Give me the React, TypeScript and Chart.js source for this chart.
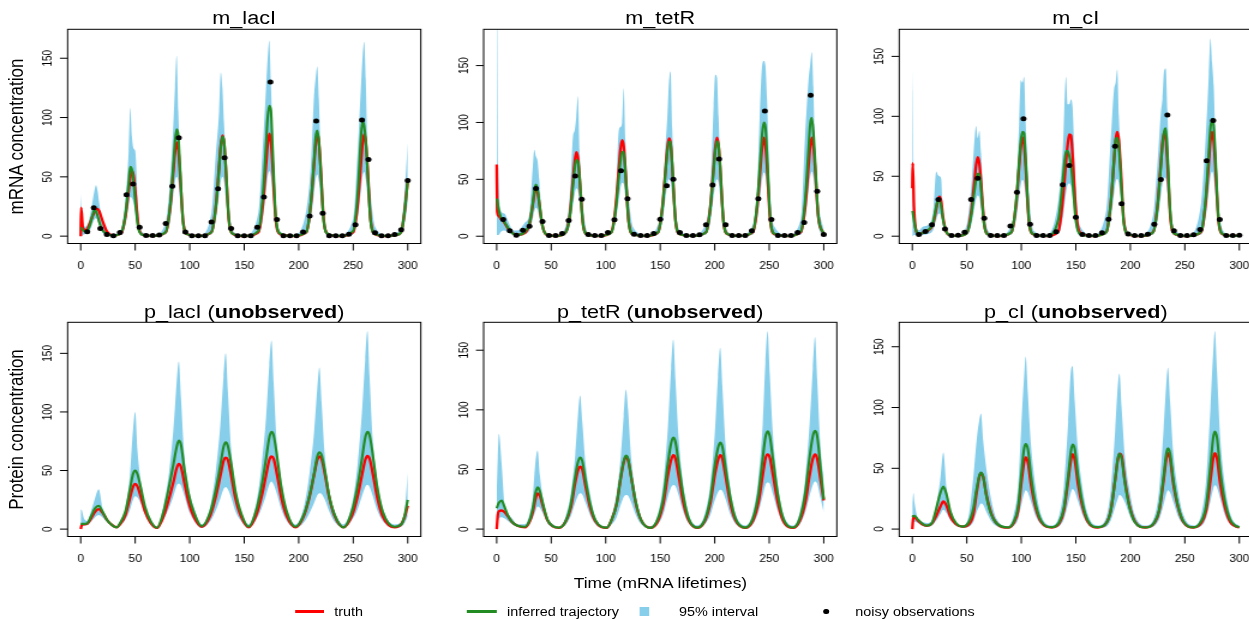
import React, { useEffect, useRef } from "react";
import { Chart, registerables } from "chart.js";

Chart.register(...registerables);

// ---------- horizontal stretch of the reference figure ----------
const SX = 1.2;
const FONT = '"Liberation Sans", Arial, Helvetica, sans-serif';
const BAND = "#87CEEB";
const RED = "#FF0000";
const GREEN = "#228B22";

// ---------- axis ticks ----------
const xTicks = [0, 50, 100, 150, 200, 250, 300];
const yTicks = [0, 50, 100, 150];

// ---------- observation times ----------
const obsTimes = [6, 12, 18, 24, 30, 36, 42, 48, 54, 60, 66, 72, 78, 84, 90, 96, 102, 108, 114, 120, 126, 132, 138, 144, 150, 156, 162, 168, 174, 180, 186, 192, 198, 204, 210, 216, 222, 228, 234, 240, 246, 252, 258, 264, 270, 276, 282, 288, 294, 300];

// ================= m_lacI =================
const m_lacI_t = [0, 0.4, 2, 5, 8, 11, 12.5, 14, 15.5, 17, 20, 24, 30,
  37, 41, 44, 45.5, 47, 48.5, 50, 53, 57, 67,
  78, 82, 85, 86.5, 88, 89.5, 91, 94, 98, 109,
  120, 124, 127, 128.5, 130, 131.5, 133, 136, 140, 151,
  163, 167, 170, 171.5, 173, 174.5, 176, 179, 183, 195,
  207, 211, 214, 215.5, 217, 218.5, 220, 223, 227, 238,
  250, 254, 257, 258.5, 260, 261.5, 263, 266, 270, 281,
  290, 294, 297, 300];
const m_lacI_truth = [0, 24, 7, 5, 10, 17, 20, 22.5, 23, 21, 13, 4, 0.5,
  2.2, 16.5, 38.5, 49.5, 55, 51, 38.5, 8, 1.1, 0.1,
  3.2, 23.7, 55, 71, 79, 73.5, 55, 12, 1.6, 0.1,
  3.4, 25.5, 59.5, 76.5, 85, 79, 59.5, 12.8, 1.7, 0.1,
  3.4, 25.8, 60, 77.5, 86.5, 80, 60, 13, 1.7, 0.1,
  3.4, 25.8, 60, 77.4, 86, 80, 60, 13, 1.7, 0.1,
  3.4, 25.8, 60, 77.4, 86, 80, 60, 13, 1.7, 0.1,
  1, 3.4, 20, 47];
const m_lacI_fit = [7, 7, 5, 4, 8, 18, 22, 21, 17, 12, 5, 2, 0.5,
  3, 18, 45, 58.5, 56, 46, 30, 6, 1, 0.2,
  3.5, 25, 60, 80, 90, 85, 60, 11, 1.5, 0.2,
  3.4, 25, 58, 75, 84, 80, 60, 13, 1.7, 0.2,
  4.4, 33, 77, 100, 110, 106, 75, 16, 2.2, 0.2,
  3.6, 27, 63, 83, 89, 80, 58, 12, 1.7, 0.2,
  4.5, 35, 82, 97, 93, 80, 58, 12, 1.7, 0.2,
  1, 3.5, 20, 46];
const m_lacI_hi = [36, 30, 12, 8, 15, 30, 38, 43, 38, 28, 12, 5, 1.5,
  6, 31, 72, 108, 84, 74, 72, 19, 3, 1,
  12, 47, 95, 126, 152, 105, 72, 18, 3, 1,
  20, 70, 106, 138, 125, 95, 70, 25, 4, 1,
  20, 75, 125, 150, 165, 128, 88, 25, 4, 1,
  22, 58, 118, 133, 143, 115, 75, 22, 3, 1,
  15, 70, 125, 150, 164, 132, 75, 35, 8, 1,
  3, 10, 36, 79];
const m_lacI_lo = [0, 0, 1, 2, 4, 11, 14, 15, 13, 9, 3, 1, 0,
  1, 9, 26, 33, 32, 28, 20, 4, 0.5, 0,
  1.5, 13, 35, 46, 50, 46, 32, 6, 0.7, 0,
  1.5, 14, 35, 46, 50, 46, 33, 7, 0.7, 0,
  1.5, 14, 38, 50, 55, 50, 36, 7, 0.7, 0,
  1.5, 14, 36, 48, 52, 46, 33, 6, 0.7, 0,
  1.5, 15, 38, 50, 54, 48, 34, 6, 0.7, 0,
  0.3, 1.5, 10, 28];
const m_lacI_obs = [3.7, 24, 6.5, 1.4, 0.4, 3, 35, 44, 7.6, 0.5, 0.5, 1, 10.7, 42, 83, 3.4, 0.4, 0.4, 0.4, 12, 40, 66, 6.5, 0.4, 0.4, 0.4, 7.6, 33, 130, 14, 0.4, 0.4, 0.4, 3.4, 17, 97, 19.4, 0.4, 0.4, 0.4, 1.7, 9.6, 98, 64.6, 2.8, 0.4, 0.4, 1.4, 5.3, 47];

// ================= m_tetR =================
const m_tetR_t = [0, 0.4, 1.5, 4, 7, 11, 15, 19,
  26, 30, 33, 34.5, 36, 37.5, 39, 42, 46, 55,
  63, 67, 70, 71.5, 73, 74.5, 76, 79, 83, 94,
  105, 109, 112, 113.5, 115, 116.5, 118, 121, 125, 137,
  148, 152, 155, 156.5, 158, 159.5, 161, 164, 168, 180,
  192, 196, 199, 200.5, 202, 203.5, 205, 208, 212, 223,
  235, 239, 242, 243.5, 245, 246.5, 248, 251, 255, 267,
  279, 283, 286, 287.5, 289, 290.5, 292, 295, 300];
const m_tetR_truth = [63, 22, 18, 15, 12, 6, 2.5, 1.2,
  3, 10.5, 27, 37, 42, 39, 29, 9, 1.2, 0.2,
  3, 18, 50, 65, 74, 69, 52, 12, 1.5, 0.2,
  3.4, 25, 59, 76, 84.5, 79, 59, 13, 1.7, 0.2,
  3.4, 26, 60, 77, 86, 82, 62, 14, 1.7, 0.2,
  3.5, 26, 61, 78, 86.6, 80, 61, 13, 1.7, 0.2,
  3.5, 26, 61, 78, 86.6, 80, 61, 13, 1.7, 0.2,
  3.5, 26, 61, 78, 86.6, 80, 61, 17, 2];
const m_tetR_fit = [33, 32, 25, 16, 12.5, 6.5, 2.3, 1,
  4, 11, 28, 40, 45.5, 41, 30, 9, 1.2, 0.2,
  3, 17, 45, 59, 67, 66, 52, 12, 1.5, 0.2,
  3, 22, 52, 66, 74, 74, 57, 13, 1.7, 0.2,
  3.4, 25, 58, 74, 83, 83, 63, 14, 1.7, 0.2,
  3.4, 25, 58, 75, 83.5, 80, 61, 13, 1.7, 0.2,
  4, 30, 70, 90, 100, 96, 72, 15, 2, 0.2,
  4.2, 32, 76, 98, 104, 92, 68, 18, 2];
const m_tetR_hi = [200, 190, 60, 22, 20, 12, 5, 5,
  12, 20, 60, 76, 70, 66, 50, 12, 3, 1,
  8, 35, 88, 93, 105, 123, 75, 28, 4, 1,
  6, 30, 93, 96, 100, 130, 85, 36, 8, 1,
  10, 35, 82, 105, 135, 145, 95, 28, 5, 1,
  12, 42, 115, 142, 140, 105, 70, 26, 4, 1,
  10, 45, 125, 150, 154, 150, 120, 36, 8, 1,
  15, 90, 137, 150, 162, 131, 73, 30, 5];
const m_tetR_lo = [0, 1, 1, 4, 5, 3, 1, 0.5,
  2, 5, 15, 22, 25, 23, 17, 5, 0.5, 0,
  1.5, 9, 28, 37, 42, 40, 30, 7, 0.7, 0,
  1.5, 12, 32, 42, 47, 46, 35, 8, 0.7, 0,
  1.5, 13, 35, 45, 50, 48, 36, 8, 0.7, 0,
  1.5, 13, 35, 45, 50, 47, 35, 8, 0.7, 0,
  1.5, 15, 38, 50, 56, 53, 40, 9, 0.7, 0,
  1.5, 15, 40, 52, 57, 52, 38, 9, 0.5];
const m_tetR_obs = [14.7, 4.7, 0.9, 5.3, 8.8, 42, 12.9, 0.6, 0.6, 2.3, 13.8, 53, 32.6, 1.5, 0.6, 0.6, 3.2, 14.4, 57.5, 33, 1.8, 0.6, 0.6, 2.3, 15, 44.3, 50, 3.2, 0.6, 0.6, 1.2, 10, 45, 67.8, 10, 0.6, 0.6, 0.6, 4.7, 33, 110, 14.7, 0.6, 0.6, 0.6, 3.2, 12, 124, 39.6, 1.5];

// ================= m_cI =================
const m_cI_t = [0, 0.4, 1.5, 3, 6, 10,
  15, 19, 22, 23.5, 25, 26.5, 28, 31, 35, 42,
  50, 54, 57, 58.5, 60, 61.5, 63, 66, 70, 80,
  91, 95, 98, 99.5, 101, 102.5, 104, 107, 111, 123,
  134, 138, 141, 142.5, 144, 145.5, 147, 150, 154, 166,
  178, 182, 185, 186.5, 188, 189.5, 191, 194, 198, 210,
  221, 225, 228, 229.5, 231, 232.5, 234, 237, 241, 253,
  265, 269, 272, 273.5, 275, 276.5, 278, 281, 285, 292, 300];
const m_cI_truth = [40, 61, 25, 7, 1.5, 3,
  5, 10, 23, 30, 33, 29, 17, 4, 0.7, 0.2,
  2.6, 20, 46, 59, 66, 61, 46, 10, 1.3, 0.1,
  3.3, 25, 58, 74, 82.4, 77, 58, 12, 1.6, 0.1,
  4, 30, 62, 76, 85, 84, 68, 22, 3, 0.1,
  3.5, 27, 62, 80, 87, 80, 60, 13, 1.7, 0.1,
  3.5, 26, 61, 78, 87, 82, 62, 13, 1.7, 0.1,
  3.5, 27, 62, 80, 87, 79, 59, 12, 1.5, 0.2, 0.3];
const m_cI_fit = [21, 20, 13, 6, 1.5, 3,
  5.5, 11, 25, 30, 30, 25, 15, 4, 0.7, 0.2,
  2.5, 17, 38, 47, 52, 52, 40, 9, 1.2, 0.1,
  3.5, 27, 62, 79, 87, 86, 64, 13, 1.6, 0.1,
  14, 46, 71, 71, 67, 60, 46, 13, 1.5, 0.1,
  3.5, 27, 63, 80, 82, 74, 54, 11, 1.5, 0.1,
  3.4, 25, 58, 76, 87, 90, 70, 15, 1.8, 0.1,
  4, 30, 70, 90, 98, 92, 68, 13, 1.6, 0.2, 0.3];
const m_cI_hi = [140, 120, 40, 12, 5, 8,
  10, 20, 54, 51, 50, 48, 20, 6, 2, 1,
  10, 40, 80, 92, 82, 88, 70, 22, 4, 1,
  10, 32, 95, 130, 128, 133, 95, 35, 5, 1,
  30, 72, 133, 110, 110, 114, 108, 40, 8, 1,
  22, 80, 122, 128, 139, 100, 70, 22, 4, 1,
  18, 62, 103, 115, 138, 140, 105, 30, 5, 1,
  28, 80, 135, 165, 145, 125, 85, 28, 5, 1, 1];
const m_cI_lo = [0, 0, 1, 1, 0.5, 1,
  2, 5, 14, 18, 19, 16, 9, 2, 0.3, 0,
  1, 9, 24, 31, 34, 32, 24, 5, 0.5, 0,
  1.5, 13, 33, 43, 47, 44, 33, 7, 0.7, 0,
  2, 15, 36, 43, 44, 42, 34, 9, 0.8, 0,
  1.5, 14, 35, 45, 48, 44, 33, 7, 0.7, 0,
  1.5, 13, 34, 44, 49, 48, 36, 8, 0.7, 0,
  1.5, 15, 38, 50, 54, 49, 35, 7, 0.6, 0, 0];
const m_cI_obs = [1.4, 3.9, 9.5, 30.6, 6.1, 0.5, 0.8, 3.3, 30.6, 48.4, 15, 0.5, 0.5, 0.5, 8.6, 36.7, 98, 10, 0.5, 0.5, 0.5, 3.6, 43, 59, 15.9, 1.4, 0.5, 0.5, 2.8, 14.2, 75, 27, 1.9, 0.5, 0.5, 1.7, 10, 47.3, 101, 4.5, 0.5, 0.5, 1.1, 5.6, 63, 96.6, 13.9, 0.5, 0.5, 0.8];

// ================= p_lacI =================
const p_lacI_t = [0, 1, 3, 6, 10, 13, 16.5, 20, 24, 28, 33,
  36, 41, 45, 48, 50, 52, 55, 59, 64, 70,
  76, 81, 85, 88, 90, 92, 95, 99, 104, 111,
  119, 124, 128, 131, 133, 135, 138, 142, 147, 154,
  161, 166, 170, 173, 175, 177, 180, 184, 189, 197,
  205, 210, 214, 217, 219, 221, 224, 228, 233, 241,
  249, 254, 258, 261, 263, 265, 268, 272, 277, 288,
  294, 297, 300];
const p_lacI_truth = [0, 3.5, 4, 4.5, 10, 14.5, 17, 14, 8, 4, 1.5,
  4, 12, 26, 36, 38.6, 36.5, 28, 15, 5.5, 1,
  11, 26, 40, 52, 55.7, 53, 40, 23, 10, 2,
  12, 28, 45, 58, 61, 59, 46, 26, 11, 1.5,
  12, 28, 46, 59, 62, 60, 47, 27, 11, 1.5,
  12, 28, 46, 59, 62, 60, 47, 27, 11, 1.5,
  12, 28, 46, 59, 62.5, 60, 47, 27, 11, 1.5,
  4, 10, 20];
const p_lacI_fit = [4.5, 4.5, 4.5, 5, 12, 17.5, 20, 15, 8, 4, 1.5,
  5, 15, 33, 47, 50, 47, 36, 19, 7, 1.2,
  15, 36, 55, 70, 75.6, 72, 52, 30, 14, 2.5,
  15, 34, 54, 70, 74, 71, 56, 32, 14, 2,
  16, 37, 60, 78, 83, 80, 63, 36, 15, 2,
  13, 29, 47, 62, 65.6, 63, 50, 28, 12, 1.5,
  16, 37, 60, 78, 83, 80, 63, 36, 15, 2,
  4, 11, 25];
const p_lacI_hi = [17, 16, 9, 7, 17, 26, 34, 18, 9, 5, 2.5,
  6, 18, 45, 85, 100, 68, 42, 20, 9, 2,
  20, 48, 85, 125, 143, 112, 64, 35, 18, 4,
  20, 50, 88, 130, 150, 118, 68, 36, 16, 4,
  22, 55, 95, 140, 161, 125, 72, 42, 17, 4,
  20, 48, 82, 120, 138, 108, 62, 33, 15, 4,
  22, 55, 100, 145, 169, 130, 75, 42, 18, 4,
  6, 14, 48];
const p_lacI_lo = [0, 2, 3, 3.5, 7, 10, 12, 10, 6, 3, 1,
  3, 8, 16, 25, 28, 27, 22, 12, 4, 0.7,
  8, 18, 28, 37, 39, 37, 29, 16, 7, 1,
  7, 16, 26, 34, 36, 34, 27, 15, 7, 1,
  8, 18, 29, 38, 40.6, 38, 30, 17, 7, 1,
  6, 14, 22, 29, 30.7, 30, 25, 15, 6, 1,
  8, 17, 28, 36, 37.8, 36, 28, 16, 7, 1,
  2, 5, 10.8];

// ================= p_tetR =================
const p_tetR_t = [0, 1, 2, 4.5, 7, 10, 14, 19,
  26, 30, 33, 35.5, 37.5, 39.5, 42.5, 46.5, 51.5, 57,
  63, 68, 72, 74.5, 76.5, 78.5, 81.5, 85.5, 90.5, 101,
  105, 110, 114, 116.5, 118.5, 120.5, 123.5, 127.5, 132.5, 141,
  148, 153, 157, 160, 162, 164, 167, 171, 176, 184,
  191, 196, 200, 203, 205, 207, 210, 214, 219, 228,
  235, 240, 244, 246.5, 248.5, 250.5, 253.5, 257.5, 262.5, 272,
  278, 283, 287, 290, 292, 294, 297, 300];
const p_tetR_truth = [0, 12, 15, 15.6, 14.3, 11, 6, 2.8,
  1.5, 6, 14, 25, 30, 28, 19, 7.5, 2.3, 1,
  6, 18, 39, 49, 52.4, 50, 36, 19, 6.5, 1,
  7, 21, 44, 56, 60.8, 58, 43, 22, 7.5, 1,
  7, 22, 45, 58, 62, 59, 44, 23, 7.5, 1,
  7, 22, 45, 58, 62, 59, 44, 23, 7.5, 1,
  7, 22, 45, 59, 62.7, 60, 45, 24, 7.5, 1,
  7, 22, 45, 59, 62.7, 59, 42, 24];
const p_tetR_fit = [17.5, 20, 22, 24, 19, 12, 6, 2.8,
  2, 7, 17, 30, 35, 32, 21, 8, 2.5, 1.2,
  6, 21, 44, 56, 60, 57, 41, 22, 7.5, 1.2,
  7, 21, 45, 57, 61.6, 59, 43, 23, 7.5, 1,
  9, 27, 55, 72, 76.7, 73, 54, 29, 9, 1.2,
  8, 26, 53, 68, 72.5, 69, 51, 28, 9, 1.2,
  9, 29, 59, 77, 82, 78, 58, 31, 10, 1.3,
  9, 30, 60, 78, 82.5, 78, 52, 25];
const p_tetR_hi = [30, 60, 80, 55, 22, 14, 9, 4,
  4, 12, 26, 56, 66, 46, 25, 10, 4, 2,
  10, 30, 62, 95, 112, 90, 55, 30, 10, 2.5,
  10, 30, 63, 95, 117, 100, 58, 30, 10, 2.5,
  13, 40, 85, 135, 159, 125, 75, 38, 13, 3,
  13, 38, 80, 128, 152, 120, 70, 36, 13, 3,
  14, 42, 88, 140, 166, 130, 78, 40, 14, 3,
  14, 42, 88, 135, 161, 125, 70, 40];
const p_tetR_lo = [0, 6, 9, 10, 9, 7, 4, 2,
  1, 4, 9, 15, 19, 18, 13, 5, 1.5, 0.7,
  3.5, 11, 22, 28, 30, 29, 22, 12, 4, 0.7,
  3.5, 10, 21, 27, 28.7, 28, 22, 12, 4, 0.7,
  4, 13, 27, 35, 37, 36, 28, 15, 5, 0.7,
  4, 12, 24, 31, 33, 32, 25, 13, 4.5, 0.7,
  4, 14, 28, 37, 39, 38, 29, 16, 5, 0.7,
  4, 14, 28, 37, 40, 38, 26, 14];

// ================= p_cI =================
const p_cI_t = [0, 1, 2, 5, 9, 13,
  18, 22, 25.5, 28.5, 31.5, 35, 40, 46,
  52, 56, 59, 61.5, 63, 65, 68, 72, 77, 88,
  93, 97, 100, 102.5, 104, 106, 109, 113, 118, 128,
  135, 139, 143, 145.5, 147, 149, 152, 156, 161, 170,
  178, 182, 186, 188.5, 190, 192, 195, 199, 204, 214,
  222, 226.5, 230.5, 233, 234.5, 236.5, 239.5, 243.5, 248.5, 258,
  265, 269.5, 273.5, 276, 277.5, 279.5, 282.5, 286.5, 291.5, 296, 300];
const p_cI_truth = [0, 10.5, 10, 7, 4, 2.7,
  4.5, 11, 18, 22.7, 19, 10, 4, 2,
  4, 12, 30, 43, 46, 43, 28, 14, 5, 1.2,
  5, 15, 38, 55, 59, 55, 36, 18, 6, 1.3,
  5, 15, 40, 57, 61.6, 57, 37, 19, 6, 1.3,
  5, 15, 40, 57, 62, 60, 40, 20, 6.5, 1.3,
  5, 15, 40, 58, 62.4, 58, 37, 19, 6, 1.3,
  5, 15, 40, 58, 62.4, 58, 37, 19, 6, 2.5, 1.3];
const p_cI_fit = [10, 10.8, 11, 8, 4.6, 2.8,
  5, 17, 29, 35, 28, 14, 5, 2,
  6, 17, 33, 44, 46.5, 43, 27, 13, 5, 1.3,
  6, 18, 45, 66, 70, 66, 43, 21, 7, 1.5,
  6, 17, 44, 64, 69.5, 66, 44, 22, 7, 1.5,
  5, 15, 40, 58, 62, 58, 38, 19, 6, 1.3,
  5.5, 16, 43, 62, 66.5, 62, 40, 20, 6.5, 1.4,
  6.5, 19, 52, 75, 80.2, 75, 48, 24, 8, 3, 1.5];
const p_cI_hi = [20, 29.6, 22, 9, 6, 5,
  7, 20, 40, 63, 34, 17, 6, 3,
  12, 43, 73, 90, 95, 73, 49, 26, 9, 2.5,
  12, 35, 85, 125, 142, 112, 68, 35, 12, 3,
  12, 35, 88, 130, 134, 105, 65, 34, 12, 3,
  10, 32, 80, 118, 128, 100, 60, 33, 12, 3,
  10, 33, 82, 120, 133, 105, 62, 33, 12, 3,
  12, 40, 100, 145, 163, 130, 75, 38, 13, 5, 3];
const p_cI_lo = [0, 5, 6, 5, 3, 2,
  3, 7, 12, 16, 13, 7, 3, 1.2,
  2, 6, 14, 19, 21, 20, 14, 7, 2.5, 0.8,
  2.5, 8, 20, 29, 32, 30, 22, 11, 4, 0.8,
  2.5, 8, 21, 30, 33, 31, 23, 12, 4, 0.8,
  2, 7, 18, 25, 28, 27, 22, 12, 4, 0.8,
  2.5, 8, 20, 29, 32, 30, 22, 11, 4, 0.8,
  2.5, 9, 23, 33, 36, 34, 25, 12, 4, 1.5, 0.8];

// ---------- layout (unstretched px) ----------
const FRAME_L = [56.33, 403.0, 749.33];
const FRAME_T = [29.3, 322.3];
const FRAME_W = 294.33;
const FRAME_H = 214.2;
const CW = 352;
const CH = 282;

type PanelDef = {
  name: string;
  unobserved: boolean;
  t: number[];
  truth: number[];
  fit: number[];
  lo: number[];
  hi: number[];
  obs?: number[];
  yMin: number;
  yMax: number;
  col: number;
  row: number;
};

const panels: PanelDef[] = [
  { name: "m_lacI", unobserved: false, t: m_lacI_t, truth: m_lacI_truth, fit: m_lacI_fit, lo: m_lacI_lo, hi: m_lacI_hi, obs: m_lacI_obs, yMin: -6.2, yMax: 174.4, col: 0, row: 0 },
  { name: "m_tetR", unobserved: false, t: m_tetR_t, truth: m_tetR_truth, fit: m_tetR_fit, lo: m_tetR_lo, hi: m_tetR_hi, obs: m_tetR_obs, yMin: -6.4, yMax: 181.9, col: 1, row: 0 },
  { name: "m_cI", unobserved: false, t: m_cI_t, truth: m_cI_truth, fit: m_cI_fit, lo: m_cI_lo, hi: m_cI_hi, obs: m_cI_obs, yMin: -6.1, yMax: 172.6, col: 2, row: 0 },
  { name: "p_lacI", unobserved: true, t: p_lacI_t, truth: p_lacI_truth, fit: p_lacI_fit, lo: p_lacI_lo, hi: p_lacI_hi, yMin: -6.3, yMax: 176.5, col: 0, row: 1 },
  { name: "p_tetR", unobserved: true, t: p_tetR_t, truth: p_tetR_truth, fit: p_tetR_fit, lo: p_tetR_lo, hi: p_tetR_hi, yMin: -6.2, yMax: 173.4, col: 1, row: 1 },
  { name: "p_cI", unobserved: true, t: p_cI_t, truth: p_cI_truth, fit: p_cI_fit, lo: p_cI_lo, hi: p_cI_hi, yMin: -6.1, yMax: 170.1, col: 2, row: 1 },
];

const pts = (t: number[], v: number[]) => t.map((x, i) => ({ x, y: v[i] }));

const axesPlugin = {
  id: "rAxes",
  afterDraw(chart: any) {
    const { ctx, chartArea: a, scales } = chart;
    const xs = scales.x;
    const ys = scales.y;
    ctx.save();
    ctx.strokeStyle = "#000";
    ctx.lineWidth = 1;
    ctx.strokeRect(a.left, a.top, a.right - a.left, a.bottom - a.top);
    ctx.beginPath();
    for (const v of xTicks) {
      const px = xs.getPixelForValue(v);
      ctx.moveTo(px, a.bottom);
      ctx.lineTo(px, a.bottom + 7);
    }
    for (const v of yTicks) {
      const py = ys.getPixelForValue(v);
      ctx.moveTo(a.left, py);
      ctx.lineTo(a.left - 6.4, py);
    }
    ctx.stroke();
    ctx.fillStyle = "#000";
    ctx.font = `10px ${FONT}`;
    ctx.textAlign = "center";
    ctx.textBaseline = "alphabetic";
    for (const v of xTicks) {
      ctx.fillText(String(v), xs.getPixelForValue(v), a.bottom + 25.7);
    }
    for (const v of yTicks) {
      ctx.save();
      ctx.translate(a.left - 13.2, ys.getPixelForValue(v));
      ctx.rotate(-Math.PI / 2);
      ctx.fillText(String(v), 0, 0);
      ctx.restore();
    }
    ctx.restore();
  },
};

function Panel({ p }: { p: PanelDef }) {
  const ref = useRef<HTMLCanvasElement | null>(null);
  const left = Math.round(FRAME_L[p.col] - 50);
  const top = Math.round(FRAME_T[p.row] - 28);
  const padL = FRAME_L[p.col] - left;
  const padT = FRAME_T[p.row] - top;
  const padR = CW - padL - FRAME_W;
  const padB = CH - padT - FRAME_H;

  useEffect(() => {
    if (!ref.current) return;
    const datasets: any[] = [
      {
        data: pts(p.t, p.hi),
        borderWidth: 0,
        borderColor: BAND,
        backgroundColor: BAND,
        pointRadius: 0,
        fill: "+1",
        cubicInterpolationMode: "monotone",
        order: 5,
      },
      {
        data: pts(p.t, p.lo),
        borderWidth: 0,
        borderColor: BAND,
        pointRadius: 0,
        fill: false,
        cubicInterpolationMode: "monotone",
        order: 5,
      },
      {
        data: pts(p.t, p.truth),
        borderColor: RED,
        borderWidth: 2.3,
        pointRadius: 0,
        fill: false,
        cubicInterpolationMode: "monotone",
        order: 3,
      },
      {
        data: pts(p.t, p.fit),
        borderColor: GREEN,
        borderWidth: 2.1,
        pointRadius: 0,
        fill: false,
        cubicInterpolationMode: "monotone",
        order: 2,
      },
    ];
    if (p.obs) {
      datasets.push({
        data: pts(obsTimes, p.obs),
        showLine: false,
        pointRadius: 2.5,
        pointHoverRadius: 0,
        pointBackgroundColor: "#000",
        pointBorderColor: "#000",
        pointBorderWidth: 0,
        order: 1,
      });
    }
    const chart = new Chart(ref.current, {
      type: "line",
      data: { datasets },
      options: {
        animation: false,
        responsive: false,
        maintainAspectRatio: false,
        events: [],
        layout: { padding: { left: padL, right: padR, top: padT, bottom: padB } },
        scales: {
          x: { type: "linear", min: -12, max: 312, display: false },
          y: { type: "linear", min: p.yMin, max: p.yMax, display: false },
        },
        plugins: {
          legend: { display: false },
          tooltip: { enabled: false },
          title: { display: false },
        },
      } as any,
      plugins: [axesPlugin],
    });
    return () => chart.destroy();
  }, []);

  return (
    <canvas
      ref={ref}
      width={CW}
      height={CH}
      style={{ position: "absolute", left, top, width: CW, height: CH }}
    />
  );
}

function Txt({ x, baseline, size, children, align = "center" }: any) {
  const style: any = {
    position: "absolute",
    top: baseline - 0.8465 * size,
    fontSize: size,
    lineHeight: `${size}px`,
    fontFamily: FONT,
    whiteSpace: "nowrap",
    color: "#000",
  };
  if (align === "center") {
    style.left = x - 200;
    style.width = 400;
    style.textAlign = "center";
  } else {
    style.left = x;
  }
  return <div style={style}>{children}</div>;
}

function YLabel({ cy, text }: { cy: number; text: string }) {
  const f = 17;
  const cx = 20 - 0.3465 * f;
  return (
    <div
      style={{
        position: "absolute",
        left: cx - 150,
        top: cy - f / 2,
        width: 300,
        height: f,
        lineHeight: `${f}px`,
        fontSize: f,
        fontFamily: FONT,
        textAlign: "center",
        whiteSpace: "nowrap",
        transform: "rotate(-90deg)",
        transformOrigin: "50% 50%",
        color: "#000",
      }}
    >
      {text}
    </div>
  );
}

export default function App() {
  const titleBase = [24.3, 318.3];
  return (
    <div
      style={{
        position: "absolute",
        left: 0,
        top: 0,
        width: 1249,
        height: 620,
        overflow: "hidden",
        background: "#fff",
      }}
    >
      <div
        style={{
          position: "absolute",
          left: 0,
          top: 0,
          width: 1249 / SX,
          height: 620,
          transform: `scaleX(${SX})`,
          transformOrigin: "0 0",
        }}
      >
        {panels.map((p) => (
          <Panel key={p.name} p={p} />
        ))}
        {panels.map((p) => (
          <Txt key={"t" + p.name} x={FRAME_L[p.col] + FRAME_W / 2} baseline={titleBase[p.row]} size={18}>
            {p.unobserved ? (
              <span>
                {p.name} (<b>unobserved</b>)
              </span>
            ) : (
              p.name
            )}
          </Txt>
        ))}
        <YLabel cy={FRAME_T[0] + FRAME_H / 2} text="mRNA concentration" />
        <YLabel cy={FRAME_T[1] + FRAME_H / 2} text="Protein concentration" />
        <Txt x={550.4} baseline={588.5} size={14.5}>
          Time (mRNA lifetimes)
        </Txt>
        {/* legend */}
        <div style={{ position: "absolute", left: 245.8, top: 610.3, width: 24.2, height: 2.3, background: RED }} />
        <Txt x={278.6} baseline={616} size={12} align="left">truth</Txt>
        <div style={{ position: "absolute", left: 389.2, top: 610.3, width: 24.7, height: 2.3, background: GREEN }} />
        <Txt x={422.5} baseline={616} size={12} align="left">inferred trajectory</Txt>
        <div style={{ position: "absolute", left: 532.75, top: 606.7, width: 8.5, height: 9.3, background: BAND }} />
        <Txt x={565.8} baseline={616} size={12} align="left">95% interval</Txt>
        <div style={{ position: "absolute", left: 688.5 - 2.2, top: 611.5 - 2.6, width: 4.4, height: 5.2, borderRadius: "50%", background: "#000" }} />
        <Txt x={712.8} baseline={616} size={12} align="left">noisy observations</Txt>
      </div>
    </div>
  );
}
